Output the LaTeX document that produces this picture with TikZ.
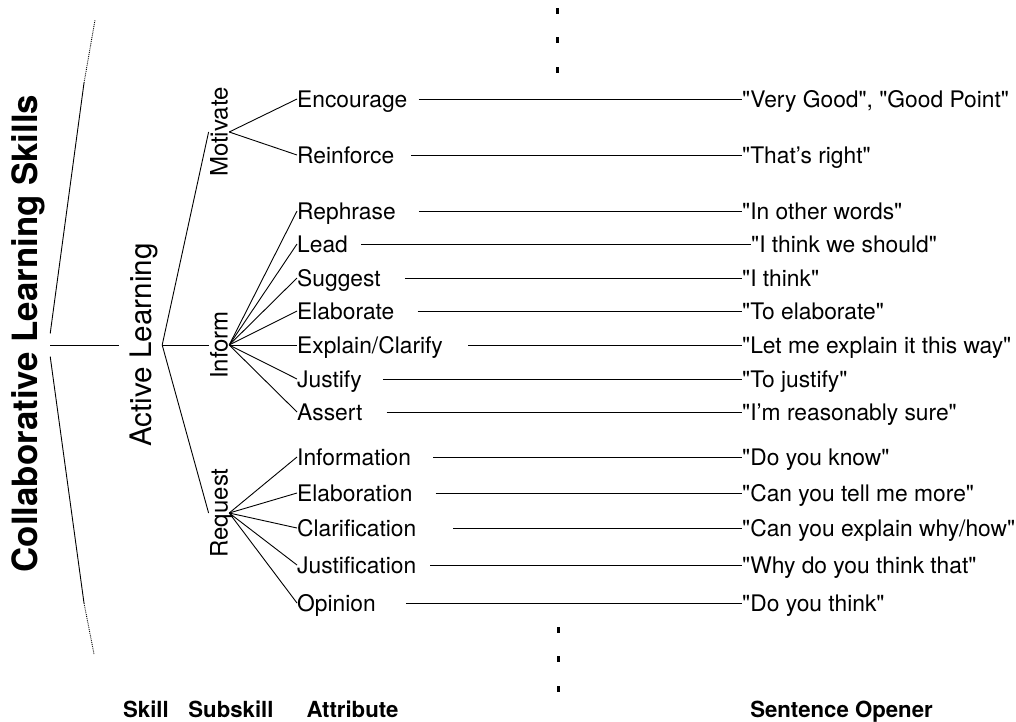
\documentclass[tikz,border=0pt]{standalone}
\usepackage{fontspec}
\setmainfont{TeX Gyre Heros}
\usetikzlibrary{calc}
\newcommand{\qt}[1]{\textquotedbl#1\textquotedbl}

\begin{document}
\begin{tikzpicture}[x=1pt,y=-1pt,
  attr/.style={anchor=west,inner sep=0pt,text height=16.4pt,text depth=0pt,font=\fontsize{22.8}{27}\selectfont},
  opener/.style={attr},
  sub/.style={rotate=90,anchor=base,inner xsep=0pt,inner ysep=1.5pt,text height=17.2pt,text depth=0pt,font=\fontsize{24}{28}\selectfont},
  lbl/.style={anchor=base,font=\fontsize{22.2}{26}\selectfont\bfseries},
  link/.style={line width=0.9pt},
  dot/.style={fill,inner sep=0pt,minimum width=3pt,minimum height=6pt}
]
  \useasboundingbox (0,0) rectangle (1016,721);

  % skill and subskill
  \node[rotate=90,anchor=base,inner xsep=0pt,inner ysep=13pt,text height=25pt,text depth=0pt,
        font=\fontsize{34.8}{40}\selectfont\bfseries] (title) at (37,333.5) {Collaborative Learning Skills};
  \node[rotate=90,anchor=base,inner xsep=0pt,inner ysep=11pt,text height=21.3pt,text depth=0pt,
        font=\fontsize{29.6}{34}\selectfont] (act) at (151,345) {Active Learning};
  \node[sub] (mot) at (227.5,132) {Motivate};
  \node[sub] (infm) at (227.5,345) {Inform};
  \node[sub] (req) at (227.5,513) {Request};

  \coordinate (upA) at (84,83);
  \coordinate (upB) at (95,20);
  \coordinate (dnA) at (84,603);
  \coordinate (dnB) at (94,654);
  \draw[link] (title.south) -- (upA);
  \draw[link,densely dotted] (upA) -- (upB);
  \draw[link] (act.north -| title.south) -- (act.north);
  \draw[link] ($(title.south)+(0,23)$) -- (dnA);
  \draw[link,densely dotted] (dnA) -- (dnB);
  \draw[link] (act.south) -- (mot.north);
  \draw[link] (act.south) -- (infm.north);
  \draw[link] (act.south) -- (req.north);

  % attributes
  \node[attr] (enc) at (297,99) {Encourage};
  \node[attr] (rei) at (297,155) {Reinforce};
  \node[attr] (rep) at (297,211) {Rephrase};
  \node[attr] (lea) at (297,244) {Lead};
  \node[attr] (sug) at (297,278) {Suggest};
  \node[attr] (ela) at (297,311) {Elaborate};
  \node[attr] (exp) at (297,345) {Explain/Clarify};
  \node[attr] (jus) at (297,379) {Justify};
  \node[attr] (ass) at (297,412) {Assert};
  \node[attr] (info) at (297,457) {Information};
  \node[attr] (elb) at (297,493) {Elaboration};
  \node[attr] (cla) at (297,528) {Clarification};
  \node[attr] (jfn) at (297,565) {Justification};
  \node[attr] (opi) at (297,603) {Opinion};

  \foreach \a in {enc,rei} \draw[link] (mot.south) -- (\a.west);
  \foreach \a in {rep,lea,sug,ela,exp,jus,ass} \draw[link] (infm.south) -- (\a.west);
  \foreach \a in {info,elb,cla,jfn,opi} \draw[link] (req.south) -- (\a.west);

  % sentence openers
  \node[opener] (enc-o) at (742,99) {\qt{Very Good}, \qt{Good Point}};
  \node[opener] (rei-o) at (742,155) {\qt{That's right}};
  \node[opener] (rep-o) at (742,211) {\qt{In other words}};
  \node[opener] (lea-o) at (751,244) {\qt{I think we should}};
  \node[opener] (sug-o) at (742,278) {\qt{I think}};
  \node[opener] (ela-o) at (742,311) {\qt{To elaborate}};
  \node[opener] (exp-o) at (742,345) {\qt{Let me explain it this way}};
  \node[opener] (jus-o) at (742,379) {\qt{To justify}};
  \node[opener] (ass-o) at (742,412) {\qt{I'm reasonably sure}};
  \node[opener] (info-o) at (742,457) {\qt{Do you know}};
  \node[opener] (elb-o) at (742,493) {\qt{Can you tell me more}};
  \node[opener] (cla-o) at (742,528) {\qt{Can you explain why/how}};
  \node[opener] (jfn-o) at (742,565) {\qt{Why do you think that}};
  \node[opener] (opi-o) at (742,603) {\qt{Do you think}};

  \draw[link] ($(enc.east)+(11,0)$) -- (enc-o.west);
  \draw[link] ($(rei.east)+(17,0)$) -- (rei-o.west);
  \draw[link] ($(rep.east)+(23,0)$) -- (rep-o.west);
  \draw[link] ($(lea.east)+(13,0)$) -- (lea-o.west);
  \draw[link] ($(sug.east)+(24,0)$) -- (sug-o.west);
  \draw[link] ($(ela.east)+(23,0)$) -- (ela-o.west);
  \draw[link] ($(exp.east)+(25,0)$) -- (exp-o.west);
  \draw[link] ($(jus.east)+(21,0)$) -- (jus-o.west);
  \draw[link] ($(ass.east)+(24,0)$) -- (ass-o.west);
  \draw[link] ($(info.east)+(22,0)$) -- (info-o.west);
  \draw[link] ($(elb.east)+(23,0)$) -- (elb-o.west);
  \draw[link] ($(cla.east)+(37,0)$) -- (cla-o.west);
  \draw[link] ($(jfn.east)+(14,0)$) -- (jfn-o.west);
  \draw[link] ($(opi.east)+(30,0)$) -- (opi-o.west);

  % continuation dots
  \node[dot] (dt1) at (557,11) {};
  \node[dot] (dt2) at (557,40) {};
  \node[dot] (dt3) at (557,70) {};
  \node[dot] (db1) at (558,630) {};
  \node[dot] (db2) at (558,659) {};
  \node[dot] (db3) at (558,689) {};

  % column labels
  \node[lbl] (lskill) at (146,717) {Skill};
  \node[lbl] (lsub) at (231,717) {Subskill};
  \node[lbl] (lattr) at (352.5,717) {Attribute};
  \node[lbl] (lopen) at (841.5,717) {Sentence Opener};
\end{tikzpicture}
\end{document}
